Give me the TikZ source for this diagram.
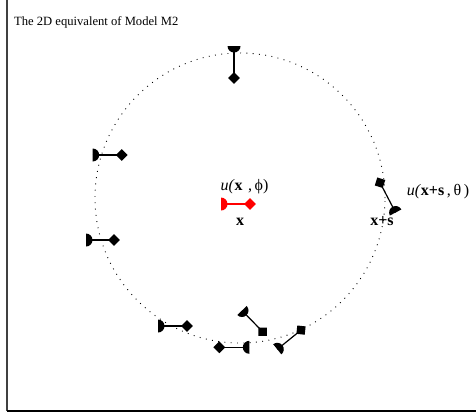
\documentclass[tikz,border=0pt]{standalone}
\usepackage{fontspec}
\setmainfont{Liberation Serif}
\usetikzlibrary{shapes.geometric}
\begin{document}
\begin{tikzpicture}[x=1pt,y=-1pt,
  dipole/.pic={
    \fill (0pt,-6.5pt) arc[start angle=-90,end angle=90,radius=6.5pt] -- cycle;
    \coordinate (-a) at (0pt,0pt);
    \node[diamond, fill, draw=none, inner sep=0pt, minimum width=12pt,
          minimum height=12pt, aspect=1, transform shape] (-b) at (#1pt,0pt) {};
    \draw[line width=1.2pt] (-a) -- (-b.center);
  },
  lbl/.style={inner sep=0pt, font=\fontsize{16}{18}\selectfont},
  ring/.style={dash pattern=on 0.9pt off 5.4pt, line width=0.9pt}
]
\useasboundingbox (0,0) rectangle (476,416);
% frame
\coordinate (fl1) at (7,0);
\coordinate (fl2) at (7,411);
\coordinate (fl3) at (476,411);
\draw[line width=1.2pt, black!75] (fl1) -- (fl2);
\draw[line width=1.2pt] (fl2) -- (fl3);
% title
\node[anchor=base west, inner sep=0pt, font=\fontsize{12.6}{15}\selectfont] (title) at (14,25) {The 2D equivalent of Model M2};
% circle
\coordinate (c) at (240,198);
\draw[ring] (c) circle[radius=145pt];
% dipoles on the circle
\pic[rotate=-90] (d1) at (234,46) {dipole=32};
\pic (d2) at (92.7,155) {dipole=29};
\pic (d3) at (86,240) {dipole=28};
\pic (d4) at (158,326) {dipole=29};
\pic[rotate=180] (d5) at (249.3,347.3) {dipole=30};
\pic[rotate=-45.8] (d6) at (242,310.5) {dipole=29.6};
\pic[rotate=39] (d7) at (277.3,349.3) {dipole=30.5};
\pic[rotate=117.6] (d8) at (395.6,212.5) {dipole=33.6};
% central dipole
\pic[red] (d0) at (221,204) {dipole=29};
% labels
\node[lbl] (l0) at (244.5,187) {\textit{u(}\textbf{x}\,\,,\,ϕ)};
\node[lbl] (x0) at (240,221.5) {\textbf{x}};
\node[lbl] (xs) at (382,221.5) {\textbf{x+s}};
\node[lbl] (l8) at (438,192) {\textit{u(}\textbf{x+s}\,,\,θ\,)};
\end{tikzpicture}
\end{document}
